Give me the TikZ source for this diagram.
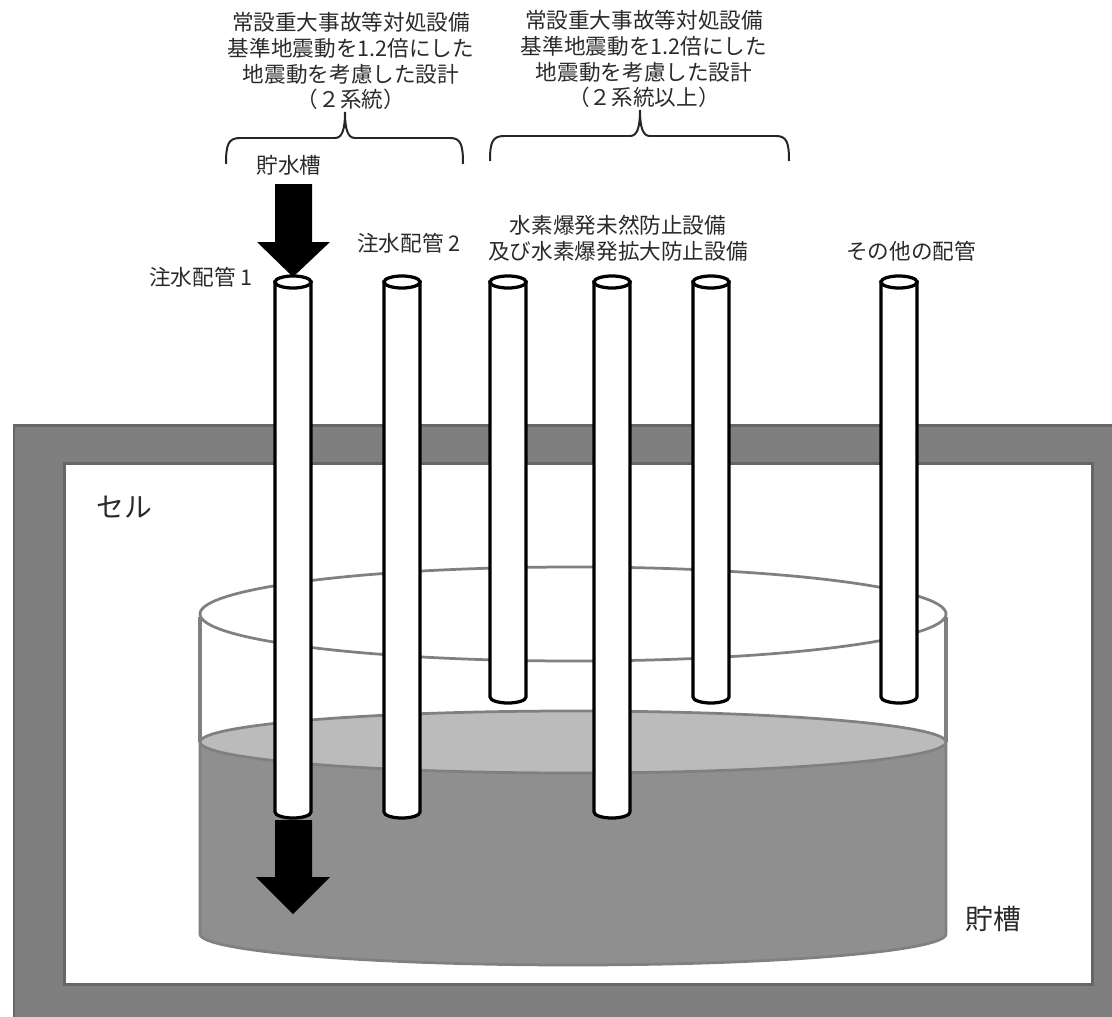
\documentclass[tikz,border=0pt]{standalone}
\usepackage{fontspec}
\setmainfont{Noto Sans CJK JP}
\definecolor{wallgray}{HTML}{7F7F7F}
\definecolor{wallline}{HTML}{666666}
\definecolor{tankline}{HTML}{808080}
\definecolor{liquidgray}{HTML}{8F8F8F}
\definecolor{surfacegray}{HTML}{BBBBBB}
\definecolor{textgray}{HTML}{2A2A2A}

\tikzstyle{wall} = [draw=wallline, line width=0.06cm]
\tikzstyle{tank} = [draw=tankline, line width=0.055cm]
\tikzstyle{pipe} = [draw=black, fill=white, line width=0.065cm]
\tikzstyle{flow} = [fill=black, draw=none]
\tikzstyle{bracket} = [draw=black!85, line width=0.04cm]
\tikzstyle{label} = [inner sep=0pt, text=textgray, font=\fontsize{12.3pt}{14.75pt}\selectfont, align=center]
\tikzstyle{biglabel} = [inner sep=0pt, text=textgray, font=\fontsize{15.8pt}{18pt}\selectfont]

\begin{document}
\begin{tikzpicture}[x=0.02cm, y=0.02cm]
    \useasboundingbox (0,0) rectangle (1112,-1017);

    % Cell wall
    \fill [wallgray] (14,-425) rectangle (1112,-1017);
    \draw [wall] (14,-1017) -- (14,-425) -- (1112,-425);
    \draw [wall, fill=white] (64,-463) rectangle (1092,-984);

    % Tank
    \draw [tank, line width=0.07cm] (200,-617) -- (200,-742);
    \draw [tank, line width=0.07cm] (946,-617) -- (946,-742);
    \draw [tank, fill=white] (573,-614) ellipse (373 and 47);
    \draw [tank, fill=liquidgray] (200,-742) -- (200,-934) arc (180:360:373 and 31) -- (946,-742) -- cycle;
    \draw [tank, fill=surfacegray] (573,-742) ellipse (373 and 31);

    % Pipes
    \foreach \x/\bottom in {293/812, 402/812, 508/697, 612/812, 711/697, 899/697}{
        \draw [pipe] (\x-18,-282) -- (\x-18,-\bottom) arc (180:360:18 and 6) -- (\x+18,-282) -- cycle;
        \draw [pipe] (\x,-282) ellipse (18 and 6);
    }

    % Flow arrows
    \fill [flow] (275,-184) -- (312,-184) -- (312,-242) -- (330,-242) -- (293,-277) -- (257,-242) -- (275,-242) -- cycle;
    \fill [flow] (275,-820) -- (312,-820) -- (312,-877) -- (330,-877) -- (293,-914) -- (256,-877) -- (275,-877) -- cycle;

    % Brackets
    \draw [bracket] (226,-164) .. controls (226,-145) and (228,-138) .. (240,-138) -- (335,-138)
        .. controls (342,-138) and (345,-130) .. (345,-112)
        .. controls (345,-130) and (348,-138) .. (355,-138) -- (450,-138)
        .. controls (461,-138) and (463,-145) .. (463,-164);
    \draw [bracket] (490,-161) .. controls (490,-143) and (492,-136) .. (504,-136) -- (630,-136)
        .. controls (637,-136) and (640,-128) .. (640,-110)
        .. controls (640,-128) and (643,-136) .. (650,-136) -- (776,-136)
        .. controls (787,-136) and (789,-143) .. (789,-161);

    % Labels
    \node [label] (design1) at (351,-61) {常設重大事故等対処設備\\基準地震動を1.2倍にした\\地震動を考慮した設計\\（２系統）};
    \node [label] (design2) at (644,-59) {常設重大事故等対処設備\\基準地震動を1.2倍にした\\地震動を考慮した設計\\（２系統以上）};
    \node [label] (storage) at (289,-165) {貯水槽};
    \node [label] (inlet1) at (201,-277) {注水配管 1};
    \node [label] (inlet2) at (409,-243) {注水配管 2};
    \node [label] (hydrogen) at (618,-238) {水素爆発未然防止設備\\及び水素爆発拡大防止設備};
    \node [label] (others) at (911,-251) {その他の配管};
    \node [biglabel] (cell) at (124,-507) {セル};
    \node [biglabel] (tanklabel) at (993,-919) {貯槽};
\end{tikzpicture}
\end{document}
